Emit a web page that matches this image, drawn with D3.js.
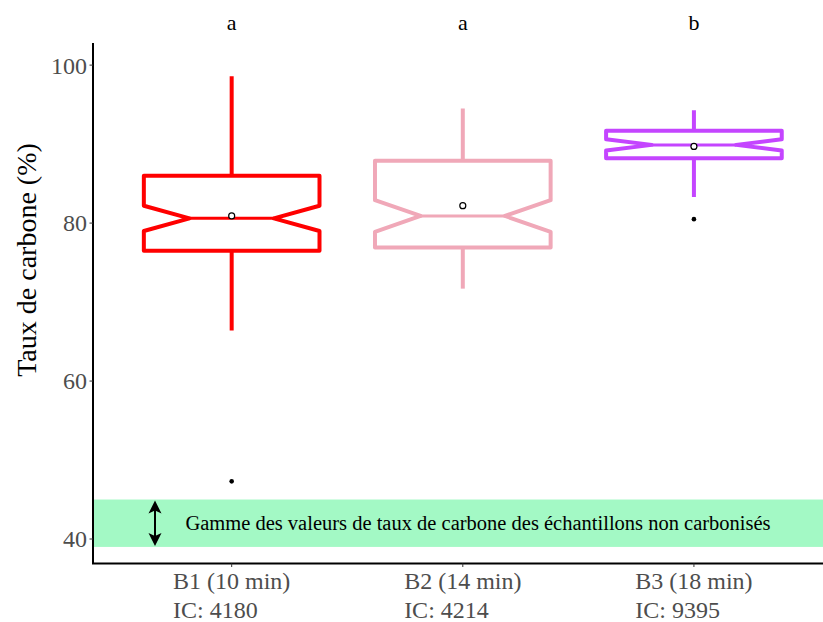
<!DOCTYPE html>
<html>
<head>
<meta charset="utf-8">
<script src="https://cdn.jsdelivr.net/npm/d3@7"></script>
<style>
  html, body { margin: 0; padding: 0; background: #fff; }
  svg { display: block; }
  text { font-family: "Liberation Serif", "DejaVu Serif", serif; }
</style>
</head>
<body>
<svg id="chart" width="823" height="622"></svg>
<script>
// ---- data ----
const categories = ["B1 (10 min)", "B2 (14 min)", "B3 (18 min)"];
const icLabels = ["IC: 4180", "IC: 4214", "IC: 9395"];
const groupLetters = ["a", "a", "b"];
const colors = ["#FF0000", "#F0A8B8", "#C445FF"];
const whiskerLow = [66.4, 71.7, 83.3];
const q1 = [76.5, 76.9, 88.2];
const notchLow = [79.0, 78.9, 89.2];
const medians = [80.6, 80.9, 89.9];
const notchHigh = [82.2, 82.9, 90.6];
const q3 = [86.0, 87.9, 91.7];
const whiskerHigh = [98.6, 94.5, 94.3];
const means = [80.9, 82.2, 89.7];
const outliers = [[47.3], [], [80.5]];
const yTicks = [40, 60, 80, 100];
const bandRange = [39, 45];
const bandLabel = "Gamme des valeurs de taux de carbone des échantillons non carbonisés";
const yTitle = "Taux de carbone (%)";

(function () {
// ---- layout ----
const svg = d3.select("#chart");
const pLeft = 93, pRight = 832.6, pTop = 43, pBottom = 563.5;

const y = d3.scaleLinear().domain([36.9, 102.8]).range([pBottom, pTop]);
const x = d3.scalePoint().domain(categories).range([pLeft, pRight]).padding(0.6);
const step = x.step();
const halfW = 0.38 * step;
const notchW = 0.48 * halfW;

svg.append("defs").append("clipPath").attr("id", "plotclip")
  .append("rect").attr("x", pLeft).attr("y", pTop).attr("width", 823 - pLeft).attr("height", pBottom - pTop);

const plot = svg.append("g").attr("clip-path", "url(#plotclip)");

// band
plot.append("rect")
  .attr("x", pLeft).attr("width", pRight - pLeft)
  .attr("y", y(bandRange[1])).attr("height", y(bandRange[0]) - y(bandRange[1]))
  .attr("fill", "#A3F9C5");

// double arrow
const ax = 155;
const ay1 = y(bandRange[1]) + 1, ay2 = y(bandRange[0]) - 1;
const headL = 13, headW = 6.5;
plot.append("line").attr("x1", ax).attr("x2", ax).attr("y1", ay1 + 6).attr("y2", ay2 - 6)
  .attr("stroke", "#000").attr("stroke-width", 2);
plot.append("path")
  .attr("d", `M${ax},${ay1} L${ax + headW},${ay1 + headL} L${ax},${ay1 + headL - 3} L${ax - headW},${ay1 + headL} Z`)
  .attr("fill", "#000");
plot.append("path")
  .attr("d", `M${ax},${ay2} L${ax + headW},${ay2 - headL} L${ax},${ay2 - headL + 3} L${ax - headW},${ay2 - headL} Z`)
  .attr("fill", "#000");

svg.append("text")
  .attr("x", 478).attr("y", (y(bandRange[0]) + y(bandRange[1])) / 2)
  .attr("dy", "0.35em")
  .attr("text-anchor", "middle")
  .attr("font-size", 20.5)
  .attr("fill", "#000")
  .text(bandLabel);

// boxes
categories.forEach((c, i) => {
  const cx = x(c);
  const col = colors[i];
  const g = plot.append("g");
  g.append("line").attr("x1", cx).attr("x2", cx).attr("y1", y(q3[i])).attr("y2", y(whiskerHigh[i]))
    .attr("stroke", col).attr("stroke-width", 4);
  g.append("line").attr("x1", cx).attr("x2", cx).attr("y1", y(q1[i])).attr("y2", y(whiskerLow[i]))
    .attr("stroke", col).attr("stroke-width", 4);
  const pts = [
    [cx - halfW, y(q3[i])], [cx + halfW, y(q3[i])], [cx + halfW, y(notchHigh[i])],
    [cx + notchW, y(medians[i])], [cx + halfW, y(notchLow[i])], [cx + halfW, y(q1[i])],
    [cx - halfW, y(q1[i])], [cx - halfW, y(notchLow[i])], [cx - notchW, y(medians[i])],
    [cx - halfW, y(notchHigh[i])]
  ];
  g.append("path").attr("d", "M" + pts.map(p => p.join(",")).join("L") + "Z")
    .attr("fill", "#fff").attr("stroke", col).attr("stroke-width", 4)
    .attr("stroke-linejoin", "round");
  g.append("line").attr("x1", cx - notchW).attr("x2", cx + notchW)
    .attr("y1", y(medians[i])).attr("y2", y(medians[i]))
    .attr("stroke", col).attr("stroke-width", 3);
  outliers[i].forEach(v => {
    g.append("circle").attr("cx", cx).attr("cy", y(v)).attr("r", 2.3).attr("fill", "#000");
  });
  g.append("circle").attr("cx", cx).attr("cy", y(means[i])).attr("r", 3)
    .attr("fill", "#fff").attr("stroke", "#000").attr("stroke-width", 1.2);
  svg.append("text").attr("x", cx).attr("y", 30).attr("text-anchor", "middle")
    .attr("font-size", 22).attr("fill", "#000").text(groupLetters[i]);
});

// axes lines
svg.append("line").attr("x1", pLeft).attr("x2", pLeft).attr("y1", pTop).attr("y2", pBottom + 0.5)
  .attr("stroke", "#000").attr("stroke-width", 2);
svg.append("line").attr("x1", pLeft - 1).attr("x2", 823).attr("y1", pBottom).attr("y2", pBottom)
  .attr("stroke", "#000").attr("stroke-width", 2);

// y ticks
yTicks.forEach(t => {
  svg.append("line").attr("x1", pLeft - 3.5).attr("x2", pLeft).attr("y1", y(t)).attr("y2", y(t))
    .attr("stroke", "#333").attr("stroke-width", 1);
  svg.append("text").attr("x", pLeft - 6).attr("y", y(t)).attr("dy", "0.35em")
    .attr("text-anchor", "end").attr("font-size", 24).attr("fill", "#4D4D4D").text(t);
});

// x ticks and labels
categories.forEach((c, i) => {
  const cx = x(c);
  svg.append("line").attr("x1", cx).attr("x2", cx).attr("y1", pBottom).attr("y2", pBottom + 3.5)
    .attr("stroke", "#333").attr("stroke-width", 1);
  const t = svg.append("text").attr("font-size", 24).attr("fill", "#4D4D4D");
  const t1 = t.append("tspan").attr("y", 589).text(c);
  const w = t1.node().getComputedTextLength();
  const x0 = cx - w / 2;
  t1.attr("x", x0);
  t.append("tspan").attr("x", x0).attr("y", 618).text(icLabels[i]);
});

// y title
svg.append("text")
  .attr("transform", "translate(36,260) rotate(-90)")
  .attr("text-anchor", "middle")
  .attr("font-size", 28)
  .attr("fill", "#000")
  .text(yTitle);
})();
</script>
</body>
</html>
